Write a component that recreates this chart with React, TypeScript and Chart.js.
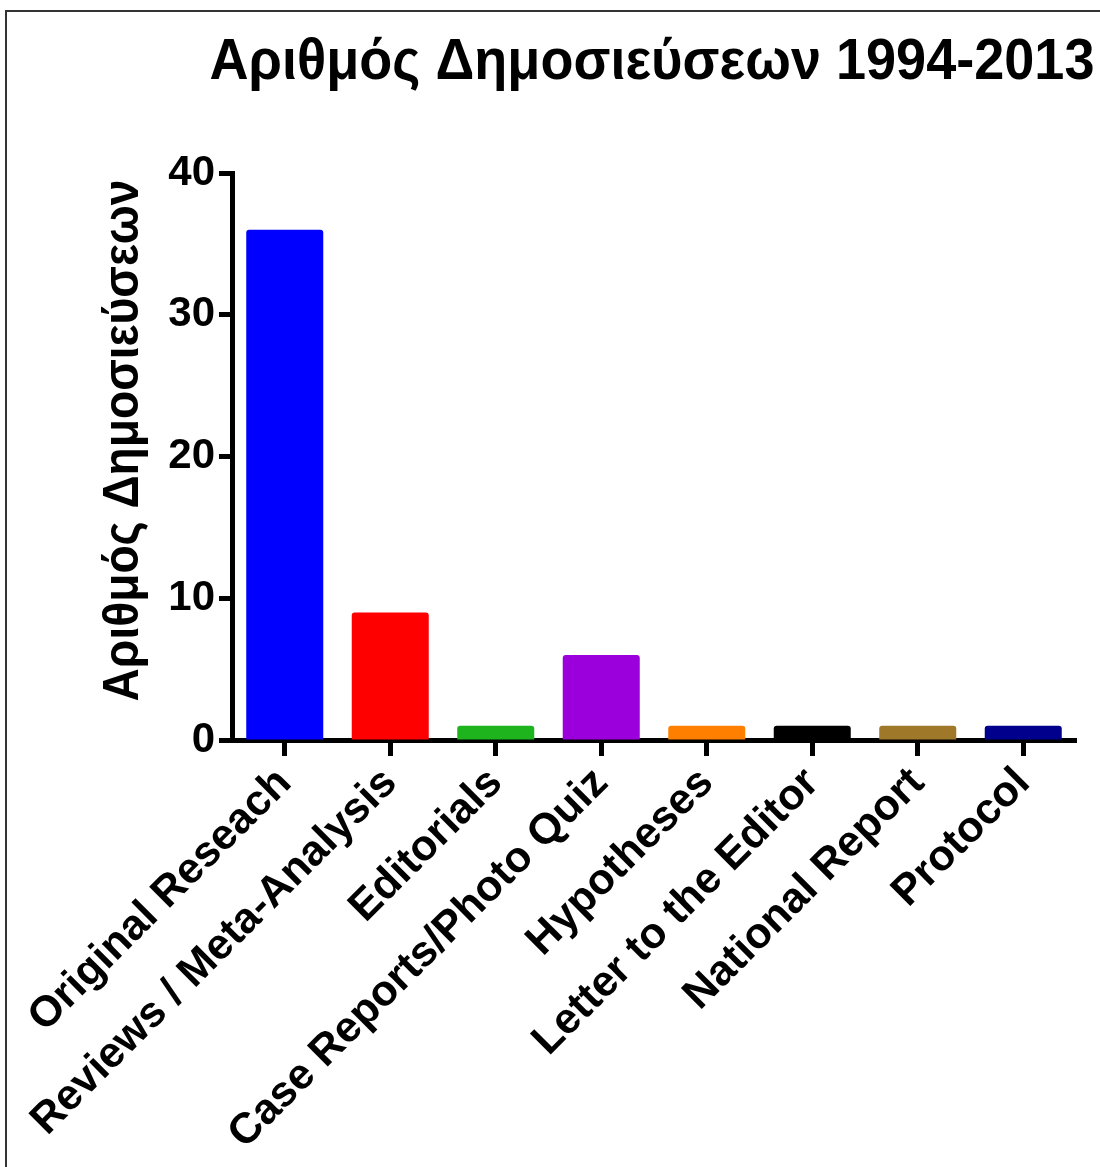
import React, { useEffect, useRef } from "react";
import { Chart, registerables } from "chart.js";

Chart.register(...registerables);

const categories = [
  "Original Reseach",
  "Reviews / Meta-Analysis",
  "Editorials",
  "Case Reports/Photo Quiz",
  "Hypotheses",
  "Letter to the Editor",
  "National Report",
  "Protocol",
];
const counts = [36, 9, 1, 6, 1, 1, 1, 1];
const barColors = [
  "#0000ff",
  "#ff0000",
  "#1eb41e",
  "#9b00dc",
  "#ff8000",
  "#000000",
  "#a0782a",
  "#00008c",
];
const yTicks = [0, 10, 20, 30, 40];
const titleText = "Αριθμός Δημοσιεύσεων 1994-2013";
const yTitleText = "Αριθμός Δημοσιεύσεων";

const FONT = "'Liberation Sans', Arial, sans-serif";

const titlesPlugin = {
  id: "titlesPlugin",
  afterDraw(chart: any) {
    const ctx = chart.ctx;
    const area = chart.chartArea;
    ctx.save();
    ctx.fillStyle = "#000";
    ctx.textAlign = "center";
    ctx.textBaseline = "middle";
    // main title
    ctx.font = `bold 58px ${FONT}`;
    ctx.fillText(titleText, 652, 63, 885);
    // y axis title
    ctx.translate(124, (area.top + area.bottom) / 2 - 16);
    ctx.rotate(-Math.PI / 2);
    ctx.font = `bold 50px ${FONT}`;
    ctx.fillText(yTitleText, 0, 0, 522);
    ctx.restore();
  },
};

export default function App() {
  const ref = useRef<HTMLCanvasElement | null>(null);

  useEffect(() => {
    if (!ref.current) return;
    const chart = new Chart(ref.current, {
      type: "bar",
      data: {
        labels: categories,
        datasets: [
          {
            data: counts,
            backgroundColor: barColors,
            borderWidth: 0,
            borderRadius: 3,
            borderSkipped: "bottom",
            barPercentage: 0.73,
            categoryPercentage: 1,
          },
        ],
      },
      plugins: [titlesPlugin],
      options: {
        animation: false,
        responsive: false,
        maintainAspectRatio: false,
        layout: { padding: { left: 0, right: 24, top: 173, bottom: 0 } },
        plugins: {
          legend: { display: false },
          tooltip: { enabled: false },
          title: { display: false },
        },
        scales: {
          x: {
            offset: true,
            grid: {
              display: true,
              drawOnChartArea: false,
              drawTicks: true,
              tickLength: 16,
              tickWidth: 5,
              tickColor: "#000",
              offset: false,
            },
            border: { display: true, width: 5, color: "#000" },
            ticks: {
              color: "#000",
              minRotation: 45,
              maxRotation: 45,
              autoSkip: false,
              padding: 2,
              font: { family: FONT, size: 43, weight: "bold" },
            },
            afterFit: (scale: any) => {
              scale.height = 427;
            },
          },
          y: {
            min: 0,
            max: 40,
            afterBuildTicks: (scale: any) => {
              scale.ticks = yTicks.map((v) => ({ value: v }));
            },
            grid: {
              display: true,
              drawOnChartArea: false,
              drawTicks: true,
              tickLength: 13,
              tickWidth: 5,
              tickColor: "#000",
            },
            border: { display: true, width: 5, color: "#000" },
            ticks: {
              color: "#000",
              padding: 4,
              font: { family: FONT, size: 42, weight: "bold" },
            },
            afterFit: (scale: any) => {
              scale.width = 232;
            },
          },
        },
      },
    });
    return () => chart.destroy();
  }, []);

  return (
    <div
      style={{
        position: "absolute",
        left: 0,
        top: 0,
        width: 1100,
        height: 1167,
        background: "#fff",
        overflow: "hidden",
      }}
    >
      <div
        style={{
          position: "absolute",
          left: 5,
          top: 10,
          width: 1200,
          height: 1200,
          borderLeft: "2px solid #333",
          borderTop: "2px solid #333",
          boxSizing: "border-box",
        }}
      />
      <canvas
        ref={ref}
        width={1100}
        height={1167}
        style={{ position: "absolute", left: 0, top: 0, width: 1100, height: 1167 }}
      />
    </div>
  );
}
